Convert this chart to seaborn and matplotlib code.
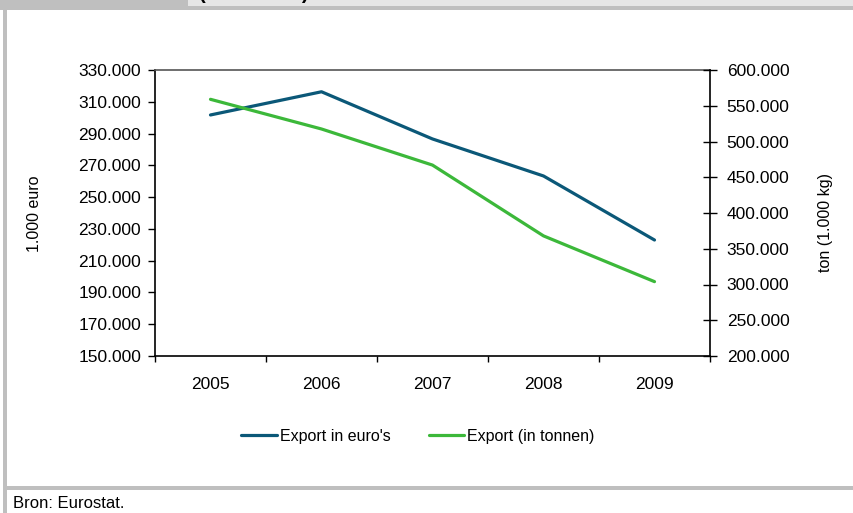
import matplotlib
matplotlib.use("Agg")
import matplotlib.pyplot as plt
import seaborn as sns
import pandas as pd
from matplotlib.ticker import FuncFormatter
from matplotlib.patches import Rectangle

# Export figures per year
years = [2005, 2006, 2007, 2008, 2009]
export_euro = [301700, 316300, 286600, 263300, 223000]   # x 1.000 euro
export_ton = [559000, 517500, 467000, 368000, 304000]    # ton (1.000 kg)

euro_ticks = [150000, 170000, 190000, 210000, 230000, 250000,
              270000, 290000, 310000, 330000]
ton_ticks = [200000, 250000, 300000, 350000, 400000, 450000,
             500000, 550000, 600000]

label_euro = "Export in euro's"
label_ton = "Export (in tonnen)"

df = pd.DataFrame({"jaar": years, "euro": export_euro, "ton": export_ton})

sns.set_theme(style="white")
plt.rcParams["font.family"] = ["Liberation Sans", "DejaVu Sans"]

BLUE = "#0b5878"
GREEN = "#3cb83a"
FRAME = "#bfbfbf"

W, H = 854, 513
fig = plt.figure(figsize=(W / 100, H / 100), dpi=100)
fig.patch.set_facecolor("white")


def px_rect(x0, y0, x1, y1, color):
    fig.patches.append(Rectangle((x0 / W, 1 - y1 / H), (x1 - x0) / W, (y1 - y0) / H,
                                 transform=fig.transFigure, color=color, lw=0))


# page frame around the chart
px_rect(0, 0, 188, 9.5, FRAME)
px_rect(188, 0, W, 6, "#e6e6e6")
px_rect(188, 6, W, 9.5, FRAME)
px_rect(3, 9.5, 7, H, FRAME)
px_rect(7, 486, W, 490, FRAME)

# heading of the chart, running off the top of the page
fig.text(199 / W, 1 + 1 / H, "(2005-2009)", fontsize=14.5, fontweight="bold",
         ha="left", va="baseline", color="black")

left, right, top, bottom = 155, 710, 70, 356
ax = fig.add_axes([left / W, 1 - bottom / H, (right - left) / W, (bottom - top) / H])

sns.lineplot(data=df, x="jaar", y="euro", ax=ax, color=BLUE, lw=2.3,
             legend=False)
ax2 = ax.twinx()
sns.lineplot(data=df, x="jaar", y="ton", ax=ax2, color=GREEN, lw=2.3,
             legend=False)

fmt = FuncFormatter(lambda v, _: f"{v:,.0f}".replace(",", "."))

ax.set_xlim(years[0] - 0.5, years[-1] + 0.5)
ax.set_xticks([y - 0.5 for y in years] + [years[-1] + 0.5])
ax.set_xticklabels([])
ax.set_xticks(years, minor=True)
ax.set_xticklabels([str(y) for y in years], minor=True)
ax.tick_params(axis="x", which="major", direction="out", length=4.5, width=1,
               color="black", bottom=True)
ax.tick_params(axis="x", which="minor", length=0, pad=15, labelsize=12.5,
               labelcolor="black")

ax.set_ylim(euro_ticks[0], euro_ticks[-1])
ax.set_yticks(euro_ticks)
ax.yaxis.set_major_formatter(fmt)
ax.tick_params(axis="y", direction="out", length=5, width=1, color="black",
               pad=5, labelsize=12.5, labelcolor="black", left=True)

ax2.set_ylim(ton_ticks[0], ton_ticks[-1])
ax2.set_yticks(ton_ticks)
ax2.yaxis.set_major_formatter(fmt)
ax2.tick_params(axis="y", direction="inout", length=10, width=1, color="black",
                pad=7, labelsize=12.5, labelcolor="black", right=True)

ax.set_xlabel("")
ax.set_ylabel("")
ax2.set_ylabel("")

for a in (ax, ax2):
    for s in a.spines.values():
        s.set_visible(False)
ax.spines["left"].set_visible(True)
ax.spines["bottom"].set_visible(True)
ax.spines["top"].set_visible(True)
ax2.spines["right"].set_visible(True)
for s in ("left", "bottom"):
    ax.spines[s].set_color("black")
    ax.spines[s].set_linewidth(1.2)
ax.spines["top"].set_color("#555555")
ax.spines["top"].set_linewidth(1.2)
ax2.spines["right"].set_color("black")
ax2.spines["right"].set_linewidth(1.2)

fig.text(35 / W, 1 - 214 / H, "1.000 euro", rotation=90, ha="center",
         va="center", fontsize=11.5, color="black")
fig.text(826 / W, 1 - 222 / H, "ton (1.000 kg)", rotation=90, ha="center",
         va="center", fontsize=11.5, color="black")

handles = [ax.lines[0], ax2.lines[0]]
fig.legend(handles, [label_euro, label_ton], loc="center",
           bbox_to_anchor=(418 / W, 1 - 436 / H), ncol=2, frameon=False,
           fontsize=11.5, handlelength=2.2, handletextpad=0.2,
           columnspacing=2.4, labelcolor="black")

fig.text(13 / W, 1 - 504 / H, "Bron: Eurostat.", ha="left", va="center",
         fontsize=12, color="black")

fig.savefig("out.png", dpi=100)
